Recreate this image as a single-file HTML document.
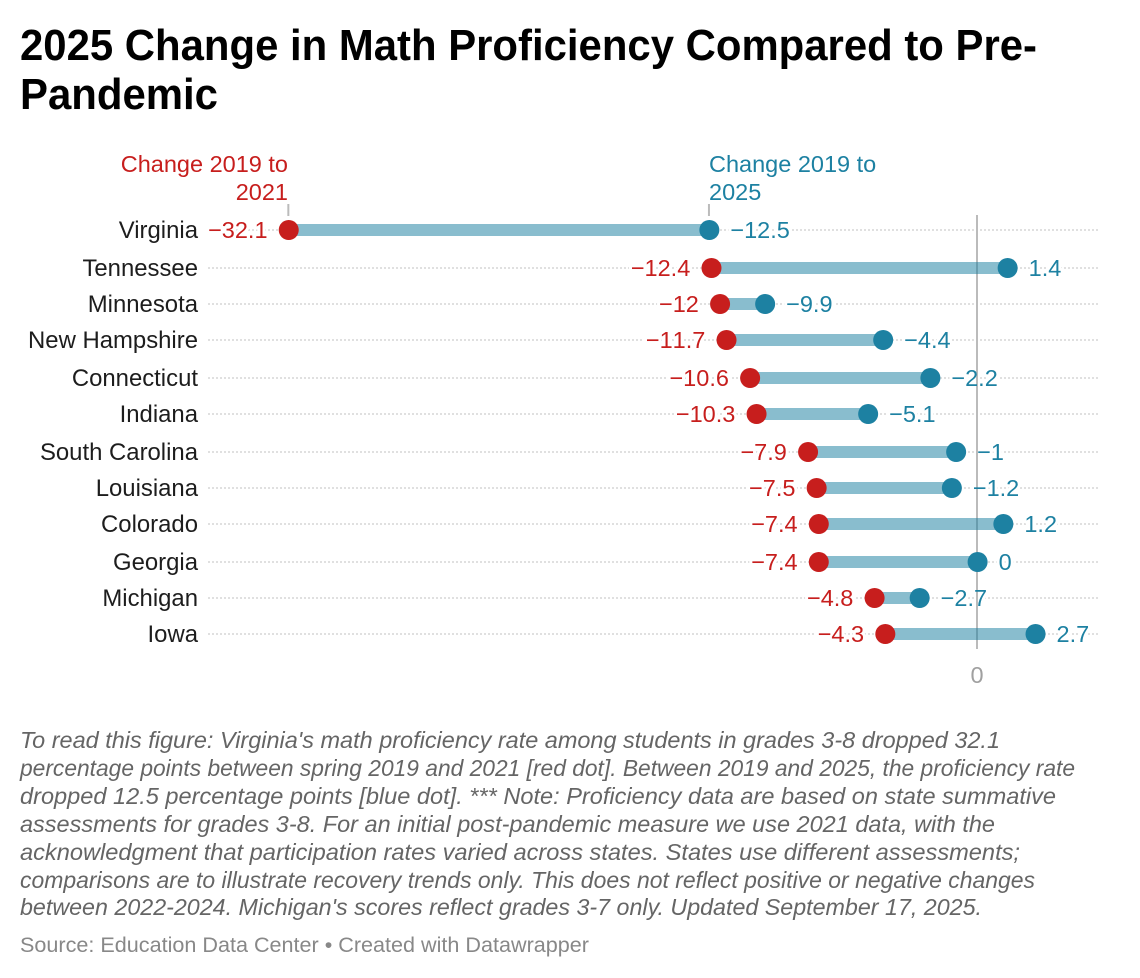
<!DOCTYPE html>
<html lang="en">
<head>
<meta charset="utf-8">
<title>2025 Change in Math Proficiency Compared to Pre-Pandemic</title>
<style>
html,body{margin:0;padding:0;background:#fff;}
svg{display:block;font-family:"Liberation Sans",Arial,sans-serif;}
.title{font-size:44px;font-weight:700;fill:#000;}
.note{font-size:23.5px;font-style:italic;fill:#656565;}
.source{font-size:21.5px;fill:#888;}
.head{font-size:23.5px;}
.cat{font-size:23.9px;fill:#1d1d1d;text-anchor:end;}
.val{font-size:23.5px;font-kerning:none;}
</style>
</head>
<body>
<svg id="chart" width="1140" height="978" viewBox="0 0 1140 978" xmlns="http://www.w3.org/2000/svg">
  <rect width="1140" height="978" fill="#fff"/>
  <text class="title" x="20" y="60" textLength="1017" lengthAdjust="spacingAndGlyphs">2025 Change in Math Proficiency Compared to Pre-</text>
  <text class="title" x="20" y="109" textLength="198" lengthAdjust="spacingAndGlyphs">Pandemic</text>

  <text class="head" x="288" y="172" text-anchor="end" fill="#c71e1d">Change 2019 to</text>
  <text class="head" x="288" y="200" text-anchor="end" fill="#c71e1d">2021</text>
  <text class="head" x="709" y="172" fill="#1d81a2">Change 2019 to</text>
  <text class="head" x="709" y="200" fill="#1d81a2">2025</text>

  <g id="grid"></g>
  <g id="zero"></g>
  <g id="bars"></g>
  <g id="ticks"></g>
  <g id="labels"></g>
  <g id="dots"></g>
  <g id="cats"></g>

  <g>
    <text class="note" x="20" y="748" textLength="980" lengthAdjust="spacingAndGlyphs">To read this figure: Virginia's math proficiency rate among students in grades 3-8 dropped 32.1</text>
    <text class="note" x="20" y="776" textLength="1055" lengthAdjust="spacingAndGlyphs">percentage points between spring 2019 and 2021 [red dot]. Between 2019 and 2025, the proficiency rate</text>
    <text class="note" x="20" y="804" textLength="1036" lengthAdjust="spacingAndGlyphs">dropped 12.5 percentage points [blue dot]. *** Note: Proficiency data are based on state summative</text>
    <text class="note" x="20" y="832" textLength="975" lengthAdjust="spacingAndGlyphs">assessments for grades 3-8. For an initial post-pandemic measure we use 2021 data, with the</text>
    <text class="note" x="20" y="860" textLength="1000" lengthAdjust="spacingAndGlyphs">acknowledgment that participation rates varied across states. States use different assessments;</text>
    <text class="note" x="20" y="888" textLength="1015" lengthAdjust="spacingAndGlyphs">comparisons are to illustrate recovery trends only. This does not reflect positive or negative changes</text>
    <text class="note" x="20" y="915" textLength="962" lengthAdjust="spacingAndGlyphs">between 2022-2024. Michigan's scores reflect grades 3-7 only. Updated September 17, 2025.</text>
    <text class="source" x="20" y="952" textLength="569" lengthAdjust="spacingAndGlyphs">Source: Education Data Center • Created with Datawrapper</text>
  </g>
</svg>
<script>
const states = ["Virginia","Tennessee","Minnesota","New Hampshire","Connecticut","Indiana","South Carolina","Louisiana","Colorado","Georgia","Michigan","Iowa"];
const change2021 = [-32.1,-12.4,-12,-11.7,-10.6,-10.3,-7.9,-7.5,-7.4,-7.4,-4.8,-4.3];
const change2025 = [-12.5,1.4,-9.9,-4.4,-2.2,-5.1,-1,-1.2,1.2,0,-2.7,2.7];
const axisTicks = [0];

const NS = "http://www.w3.org/2000/svg";
const RED = "#c71e1d", BLUE = "#1d81a2";
function xScale(v){ return 977.6 + v * 21.46; }
function yScale(i){ return 2 * Math.round((230.5 + i * 36.75) / 2); }
function fmt(v){ return (v < 0 ? "\u2212" : "") + Math.abs(v); }
function make(tag, attrs, parent){
  const el = document.createElementNS(NS, tag);
  for (const k in attrs) el.setAttribute(k, attrs[k]);
  parent.appendChild(el);
  return el;
}
const gGrid = document.getElementById("grid");
const gBars = document.getElementById("bars");
const gZero = document.getElementById("zero");
const gTicks = document.getElementById("ticks");
const gLabels = document.getElementById("labels");
const gDots = document.getElementById("dots");
const gCats = document.getElementById("cats");

states.forEach(function(name, i){
  const y = yScale(i);
  const a = change2021[i], b = change2025[i];
  const xa = xScale(a), xb = xScale(b);

  const grid = make("line", {x1:208, x2:1098, y1:y, y2:y, stroke:"#e0e0e0", "stroke-width":2, "stroke-dasharray":"2 2"}, gGrid);
  
  

  const under = make("rect", {x:Math.min(xa,xb), y:y-6, width:Math.abs(xb-xa), height:12, fill:"#fff"}, gGrid);
  
  

  const bar = make("rect", {x:Math.min(xa,xb), y:y-6, width:Math.abs(xb-xa), height:12, fill:"#1d81a2", "fill-opacity":0.52}, gBars);
  
  

  const cat = make("text", {class:"cat", x:198, y:y+8}, gCats);
  cat.textContent = name;
  
  

  const lx1 = xa - 21.2, lx2 = xb + 21;
  [[a,lx1,"end",RED],[b,lx2,"start",BLUE]].forEach(function(d){
    const halo = make("text", {class:"val", x:d[1], y:y+8, "text-anchor":d[2], fill:"#fff", stroke:"#fff", "stroke-width":6, "stroke-linejoin":"round"}, gGrid);
    halo.textContent = fmt(d[0]);
    
    

    const t = make("text", {class:"val", x:d[1], y:y+8, "text-anchor":d[2], fill:d[3]}, gLabels);
    t.textContent = fmt(d[0]);
    
    
  });

  const dotA = make("circle", {cx:xa, cy:y, r:10, fill:RED}, gDots);
  
  

  const dotB = make("circle", {cx:xb, cy:y, r:10, fill:BLUE}, gDots);
  
  
});

axisTicks.forEach(function(v){
  const axisLine = make("line", {x1:xScale(v)-0.6, x2:xScale(v)-0.6, y1:215, y2:649, stroke:"#bbbbbb", "stroke-width":2}, gZero);
  
  

  const tick = make("text", {x:xScale(v)-0.6, y:683, "text-anchor":"middle", fill:"#a0a0a0", "font-size":23.5}, gZero);
  tick.textContent = fmt(v);
  
  
});

[change2021[0], change2025[0]].forEach(function(v){
  const t = make("line", {x1:xScale(v)-0.4, x2:xScale(v)-0.4, y1:204, y2:216, stroke:"#bbbbbb", "stroke-width":2}, gTicks);
  
  
});
</script>
</body>
</html>
